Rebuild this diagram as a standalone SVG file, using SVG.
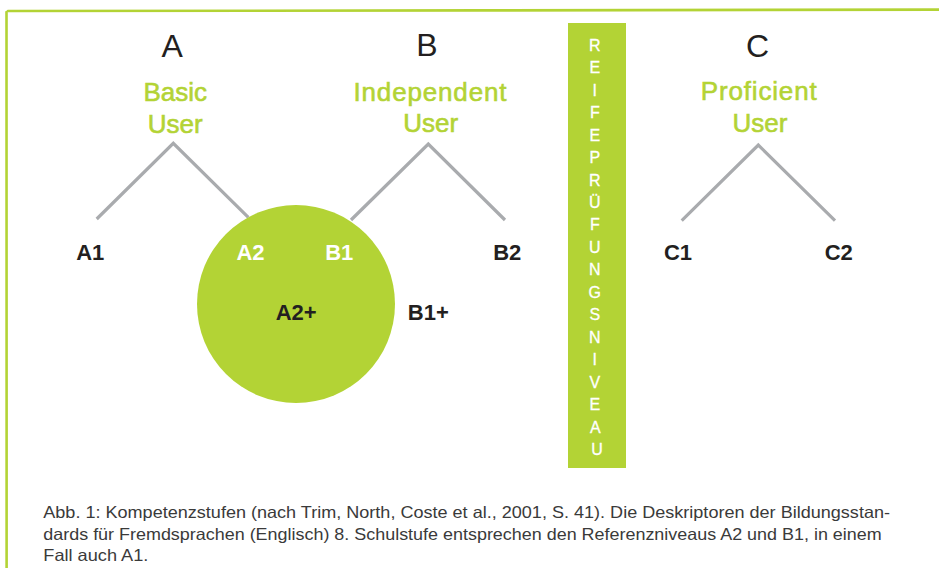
<svg xmlns="http://www.w3.org/2000/svg" width="939" height="568" viewBox="0 0 939 568">
  <style>
    .frame { fill: none; stroke: #b3d335; stroke-width: 2.6; stroke-linecap: round; }
    .branch { fill: none; stroke: #a9abae; stroke-width: 3.2; stroke-linecap: butt; }
    .head { font-family: "Liberation Sans", Arial, sans-serif; font-size: 32px; fill: #231f20; text-anchor: middle; }
    .group { font-family: "Liberation Sans", Arial, sans-serif; font-size: 26px; fill: #b3d335; stroke: #b3d335; stroke-width: 0.6; text-anchor: middle; }
    .level { font-family: "Liberation Sans", Arial, sans-serif; font-size: 22px; font-weight: bold; fill: #231f20; text-anchor: middle; }
    .level.inner { fill: #ffffff; }
    .bar { fill: #b3d335; }
    .barText { font-family: "Liberation Sans", Arial, sans-serif; font-size: 16px; fill: #ffffff; stroke: #ffffff; stroke-width: 0.3; text-anchor: middle; }
    .caption { font-family: "Liberation Sans", Arial, sans-serif; font-size: 16.5px; fill: #3a3a3a; }
  </style>

  <rect width="939" height="568" fill="#ffffff"/>

  <!-- hand-drawn frame: top and left edges -->
  <g id="frame">
    <path class="frame" d="M8,11 C120,10.5 300,11.2 480,10.4 C640,9.8 800,10.6 939,9.6"/>
    <path class="frame" d="M6.5,12 C6.8,120 5.8,260 6.6,400 C7,480 6.2,530 6.6,568"/>
  </g>

  <!-- tree branches -->
  <g id="connectors">
    <polyline class="branch" points="96.7,219 173.3,143.3 248.3,217.3"/>
    <polyline class="branch" points="351,220 428.3,144 505,220"/>
    <polyline class="branch" points="681.7,220.7 758.3,145 835,220.7"/>
  </g>

  <!-- overlap circle between A2 and B1 -->
  <g id="overlap">
    <circle cx="296" cy="304" r="99" fill="#b3d335"/>
  </g>

  <g id="group-a">
    <text class="head" x="172.2" y="56.7">A</text>
    <text class="group" x="175.3" y="100.7">Basic</text>
    <text class="group" x="175.3" y="133.3">User</text>
  </g>

  <g id="group-b">
    <text class="head" x="427" y="56.3">B</text>
    <text class="group" x="430" y="101" textLength="153" lengthAdjust="spacing">Independent</text>
    <text class="group" x="430.8" y="131.7">User</text>
  </g>

  <g id="group-c">
    <text class="head" x="757.5" y="56.7">C</text>
    <text class="group" x="758.7" y="100" textLength="116" lengthAdjust="spacing">Proficient</text>
    <text class="group" x="759.9" y="131.7">User</text>
  </g>

  <g id="level-a1"><text class="level" x="90.2" y="260">A1</text></g>
  <g id="level-a2"><text class="level inner" x="250.5" y="260">A2</text></g>
  <g id="level-b1"><text class="level inner" x="339.2" y="260">B1</text></g>
  <g id="level-b2"><text class="level" x="507.3" y="260">B2</text></g>
  <g id="level-c1"><text class="level" x="678" y="259.5">C1</text></g>
  <g id="level-c2"><text class="level" x="838.7" y="259.5">C2</text></g>
  <g id="level-a2plus"><text class="level" x="296.2" y="320">A2+</text></g>
  <g id="level-b1plus"><text class="level" x="428.3" y="320">B1+</text></g>

  <!-- vertical bar: Reifeprüfungsniveau -->
  <g id="reifepruefung">
    <rect class="bar" x="568" y="23" width="58" height="445"/>
    <text class="barText">
      <tspan x="597" y="50.7">R</tspan>
      <tspan x="597" y="73.2">E</tspan>
      <tspan x="597" y="95.6">I</tspan>
      <tspan x="597" y="118.1">F</tspan>
      <tspan x="597" y="140.5">E</tspan>
      <tspan x="597" y="163">P</tspan>
      <tspan x="597" y="185.5">R</tspan>
      <tspan x="597" y="207.9">Ü</tspan>
      <tspan x="597" y="230.4">F</tspan>
      <tspan x="597" y="252.8">U</tspan>
      <tspan x="597" y="275.3">N</tspan>
      <tspan x="597" y="297.8">G</tspan>
      <tspan x="597" y="320.2">S</tspan>
      <tspan x="597" y="342.7">N</tspan>
      <tspan x="597" y="365.1">I</tspan>
      <tspan x="597" y="387.6">V</tspan>
      <tspan x="597" y="410.1">E</tspan>
      <tspan x="597" y="432.5">A</tspan>
      <tspan x="597" y="455">U</tspan>
    </text>
  </g>

  <!-- caption -->
  <g id="caption">
    <text class="caption" x="43.3" y="518.3" textLength="846.7" lengthAdjust="spacingAndGlyphs">Abb. 1: Kompetenzstufen (nach Trim, North, Coste et al., 2001, S. 41). Die Deskriptoren der Bildungsstan-</text>
    <text class="caption" x="43.3" y="540" textLength="838.4" lengthAdjust="spacingAndGlyphs">dards für Fremdsprachen (Englisch) 8. Schulstufe entsprechen den Referenzniveaus A2 und B1, in einem</text>
    <text class="caption" x="43.3" y="561.3" textLength="105" lengthAdjust="spacingAndGlyphs">Fall auch A1.</text>
  </g>
</svg>
